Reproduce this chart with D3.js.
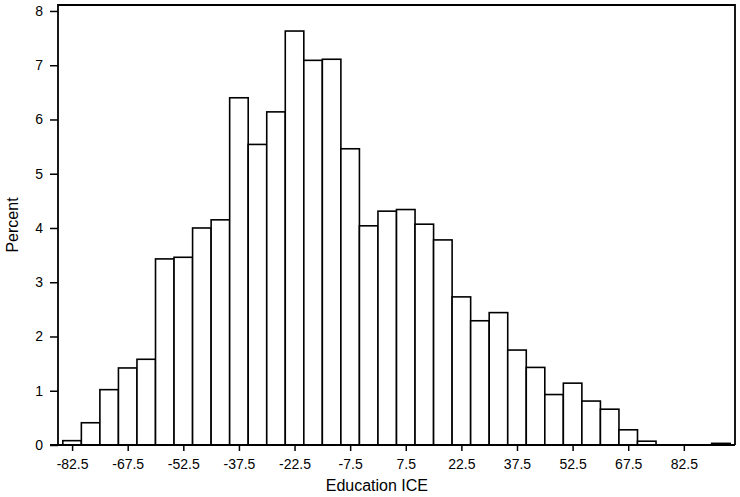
<html>
  <head>
    <script src="https://d3js.org/d3.v7.min.js"></script>
    <style>
      body { margin: 0; background: #fff; }
      text { font-family: "Liberation Sans", Arial, sans-serif; fill: #000; }
    </style>
  </head>
  <body>
    <script>
      // histogram bins, width 5, starting at -85
      var binStart = -85;
      var binWidth = 5;
      var percents = [0.08, 0.41, 1.02, 1.42, 1.58, 3.43, 3.46, 4.00, 4.15, 6.40,
                      5.54, 6.14, 7.63, 7.09, 7.11, 5.46, 4.04, 4.31, 4.34, 4.07,
                      3.78, 2.73, 2.29, 2.44, 1.75, 1.43, 0.93, 1.14, 0.81, 0.66,
                      0.28, 0.07, 0, 0, 0, 0.03];
      var xTicks = [-82.5, -67.5, -52.5, -37.5, -22.5, -7.5, 7.5, 22.5, 37.5, 52.5, 67.5, 82.5];
      var yTicks = [0, 1, 2, 3, 4, 5, 6, 7, 8];

      var width = 740, height = 497;
      var plotLeft = 58, plotRight = 735, plotTop = 5, plotBottom = 445;

      var bins = percents.map(function(p, i) {
        return { x0: binStart + i * binWidth, x1: binStart + (i + 1) * binWidth, v: p };
      });

      var svg = d3.select("body").append("svg")
                  .attr("width", width).attr("height", height);

      var x = d3.scaleLinear().domain([-86.3, 96.3]).range([plotLeft, plotRight]);
      var y = d3.scaleLinear().domain([0, 8.11]).range([plotBottom, plotTop]);

      // bars
      svg.selectAll("rect.bar")
         .data(bins.filter(function(d) { return d.v > 0; }))
         .enter().append("rect")
         .attr("class", "bar")
         .attr("x", function(d) { return x(d.x0); })
         .attr("y", function(d) { return y(d.v); })
         .attr("width", function(d) { return x(d.x1) - x(d.x0); })
         .attr("height", function(d) { return y(0) - y(d.v); })
         .attr("fill", "#fff")
         .attr("stroke", "#000")
         .attr("stroke-width", 1.6);

      // frame
      svg.append("path")
         .attr("d", "M" + plotLeft + "," + plotBottom + "V" + plotTop + "H" + plotRight + "V" + plotBottom)
         .attr("fill", "none")
         .attr("stroke", "#000")
         .attr("stroke-width", 1.8);

      // x axis
      var xAxis = svg.append("g")
         .attr("transform", "translate(0," + plotBottom + ")")
         .call(d3.axisBottom(x).tickValues(xTicks).tickSize(6).tickSizeOuter(0)
               .tickFormat(function(d) { return d3.format(".1f")(d).replace("−", "-"); }));
      xAxis.select(".domain").attr("d", "M50,0H" + plotRight).attr("stroke-width", 1.8);
      xAxis.selectAll(".tick line").attr("stroke-width", 1.5);
      xAxis.selectAll("text").attr("font-size", 14).attr("dy", null).attr("y", 24)
           .style("font-family", "'Liberation Sans', Arial, sans-serif");

      // y axis
      var yAxis = svg.append("g")
         .attr("transform", "translate(" + plotLeft + ",0)")
         .call(d3.axisLeft(y).tickValues(yTicks).tickSize(8).tickSizeOuter(0));
      yAxis.select(".domain").remove();
      yAxis.selectAll(".tick line").attr("stroke-width", 1.5);
      yAxis.selectAll("text").attr("font-size", 14).attr("x", -15)
           .style("font-family", "'Liberation Sans', Arial, sans-serif");

      // axis titles
      svg.append("text")
         .attr("x", x(-0.3)).attr("y", 491)
         .attr("text-anchor", "middle")
         .attr("font-size", 16)
         .text("Education ICE");

      svg.append("text")
         .attr("transform", "translate(18," + ((plotTop + plotBottom) / 2) + ") rotate(-90)")
         .attr("text-anchor", "middle")
         .attr("font-size", 16)
         .text("Percent");
    </script>
  </body>
</html>
